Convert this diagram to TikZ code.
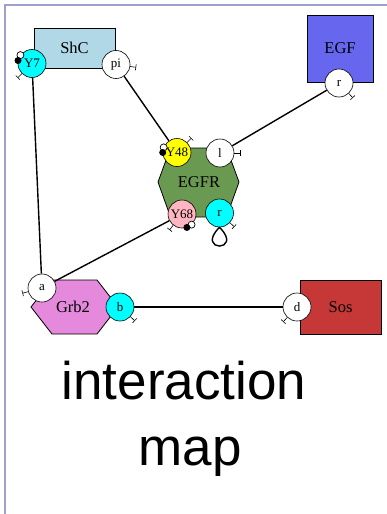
\documentclass[tikz,border=0pt]{standalone}
\usepackage{fontspec}
\setmainfont{Liberation Serif}
\newfontfamily\bigsans{Liberation Sans}
\usetikzlibrary{arrows.meta}
\definecolor{framec}{RGB}{160,160,206}
\definecolor{shcc}{RGB}{176,216,230}
\definecolor{egfc}{RGB}{102,102,238}
\definecolor{sosc}{RGB}{198,56,56}
\definecolor{grbc}{RGB}{229,137,221}
\definecolor{egfrc}{RGB}{106,154,82}
\definecolor{pinkc}{RGB}{255,182,193}
\definecolor{cyanc}{RGB}{0,255,255}
\definecolor{yellowc}{RGB}{255,255,0}
\begin{document}
\begin{tikzpicture}[x=1pt,y=1pt,
  site/.style={circle,draw,line width=0.6pt,minimum size=28pt,inner sep=0pt,font=\fontsize{13}{13}\selectfont},
  box/.style={rectangle,draw,line width=0.8pt,inner sep=0pt,font=\fontsize{16.5}{16.5}\selectfont},
  hexlabel/.style={inner sep=0pt,font=\fontsize{16.5}{16.5}\selectfont},
  hexline/.style={draw=black,line width=0.8pt},
  link/.style={line width=1.4pt},
  stub/.style={line width=0.6pt,-{Bar[width=6pt,line width=0.6pt]}},
  pdot/.style={circle,fill=black,inner sep=0pt,minimum size=7pt},
  pring/.style={circle,draw,fill=white,line width=0.7pt,inner sep=0pt,minimum size=7pt},
  frame/.style={draw=framec,line width=1.5pt},
]
\useasboundingbox (0,0) rectangle (387,-514);
\fill[white] (0,0) rectangle (387,-514);
\draw[frame] (5,-514) -- (5,-5) -- (387,-5);

% agents
\node[box,fill=shcc,minimum width=81pt,minimum height=40pt] (ShC) at (74.5,-48) {ShC};
\node[box,fill=egfc,minimum width=66pt,minimum height=67pt] (EGF) at (340,-48.5) {EGF};
\node[box,fill=sosc,minimum width=81pt,minimum height=54pt] (Sos) at (340.5,-307) {Sos};
\fill[egfrc] (158,-182) -- (170.5,-148) -- (226.5,-148) -- (239,-182) -- (226.5,-217) -- (170.5,-217) -- cycle;
\draw[hexline] (158,-182) -- (170.5,-148) -- (226.5,-148) -- (239,-182) -- (226.5,-217) -- (170.5,-217) -- cycle;
\node[hexlabel] (EGFR) at (199,-182) {EGFR};
\fill[grbc] (31,-307) -- (52,-280) -- (97,-280) -- (118,-307) -- (97,-334) -- (52,-334) -- cycle;
\draw[hexline] (31,-307) -- (52,-280) -- (97,-280) -- (118,-307) -- (97,-334) -- (52,-334) -- cycle;
\node[hexlabel] (Grb2) at (73,-307) {Grb2};

% sites
\node[site,fill=cyanc] (Y7) at (32,-63.5) {Y7};
\node[site,fill=white] (pi) at (116,-64.5) {pi};
\node[site,fill=white] (EGFr) at (339,-83) {r};
\node[site,fill=yellowc] (Y48) at (177,-152.5) {Y48};
\node[site,fill=white] (l) at (220,-153) {l};
\node[site,fill=pinkc] (Y68) at (182,-214) {Y68};
\node[site,fill=cyanc] (r) at (219.5,-213) {r};
\node[site,fill=white] (a) at (42,-288) {a};
\node[site,fill=cyanc] (b) at (120,-307) {b};
\node[site,fill=white] (d) at (297,-307) {d};

% links
\draw[link] (Y7) -- (a);
\draw[link] (pi) -- (Y48);
\draw[link] (EGFr) -- (l);
\draw[link] (a) -- (Y68);
\draw[link] (b) -- (d);
\draw[link] (r.south) .. controls +(-25,-25) and +(25,-25) .. (r.south);

% free-site stubs
\draw[stub] (Y7.225) -- ++(225:6);
\draw[stub] (pi.-8) -- ++(-8:6);
\draw[stub] (Y48.45) -- ++(45:6);
\draw[stub] (l.0) -- ++(0:6);
\draw[stub] (Y68.232) -- ++(232:6);
\draw[stub] (r.-43) -- ++(-43:6);
\draw[stub] (EGFr.-47) -- ++(-47:6);
\draw[stub] (a.195) -- ++(195:6);
\draw[stub] (b.-43) -- ++(-43:6);
\draw[stub] (d.227) -- ++(227:6);

% phosphorylation marks
\node[pring] (Y7w) at (Y7.144) {};
\node[pdot] (Y7k) at (Y7.168) {};
\node[pring] (Y48w) at (Y48.159) {};
\node[pdot] (Y48k) at (Y48.180) {};
\node[pring] (Y68w) at (Y68.-48) {};
\node[pdot] (Y68k) at (Y68.-70) {};

% title
\node[anchor=base,inner sep=0pt,font=\bigsans\fontsize{53}{53}\selectfont] (t1) at (184,-399) {interaction};
\node[anchor=base,inner sep=0pt,font=\bigsans\fontsize{53}{53}\selectfont] (t2) at (190,-465) {map};
\end{tikzpicture}
\end{document}
